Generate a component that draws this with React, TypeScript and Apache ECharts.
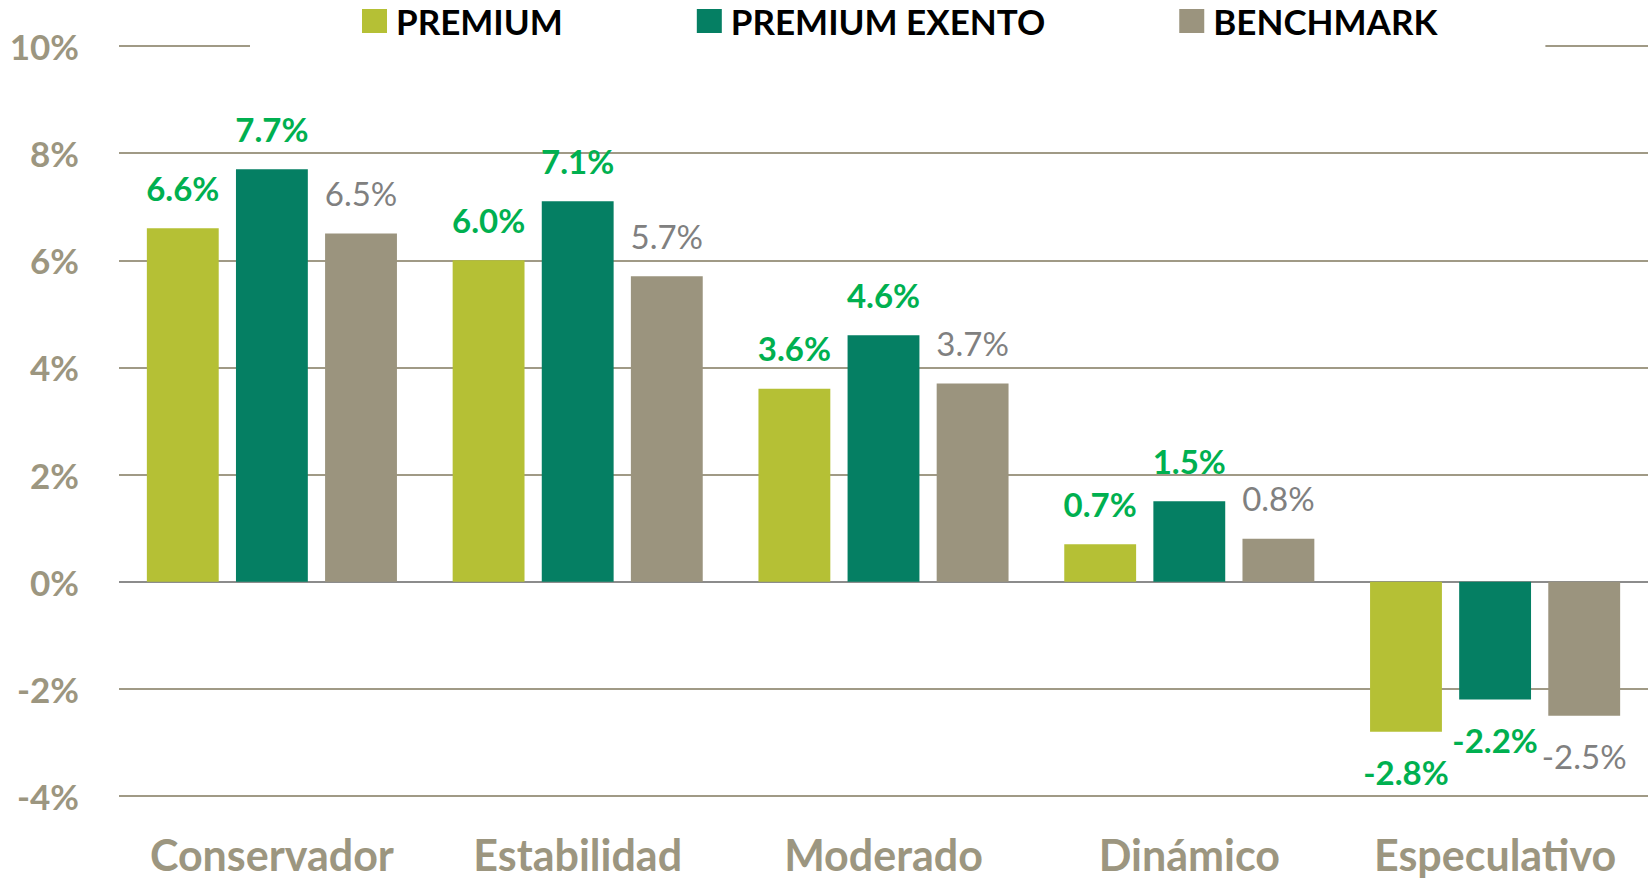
import React, { useEffect, useRef } from "react";
import * as echarts from "echarts";

const categories = ["Conservador", "Estabilidad", "Moderado", "Dinámico", "Especulativo"];
const seriesNames = ["PREMIUM", "PREMIUM EXENTO", "BENCHMARK"];
const premium = [6.6, 6.0, 3.6, 0.7, -2.8];
const premiumExento = [7.7, 7.1, 4.6, 1.5, -2.2];
const benchmark = [6.5, 5.7, 3.7, 0.8, -2.5];

const colors = ["#b5c035", "#057f63", "#9b947e"];
const tan = "#9c9680";
const FONT = "Lato, 'Open Sans', sans-serif";

export default function App() {
  const ref = useRef<HTMLDivElement>(null);
  useEffect(() => {
    if (!ref.current) return;
    const chart = echarts.init(ref.current, null, { renderer: "svg" });
    const makeSeries = (name: string, values: number[], idx: number) => {
      const isBench = idx === 2;
      return {
        name,
        type: "bar",
        barWidth: "23.5%",
        barGap: "24%",
        itemStyle: { color: colors[idx] },
        label: {
          show: true,
          distance: 24,
          formatter: (p: any) => `${Number(p.value).toFixed(1)}%`,
          color: isBench ? "#808080" : "#00b050",
          fontWeight: isBench ? "normal" : "bold",
          fontSize: 33,
          fontFamily: FONT,
        },
        data: values.map((v) => ({
          value: v,
          label: { position: v < 0 ? "bottom" : "top" },
        })),
      };
    };
    chart.setOption({
      animation: false,
      backgroundColor: "#ffffff",
      textStyle: { fontFamily: FONT },
      legend: {
        data: seriesNames,
        left: 250,
        top: 0,
        padding: [0, 108, 8, 112],
        backgroundColor: "#ffffff",
        itemWidth: 25,
        itemHeight: 24,
        itemGap: 134,
        icon: "rect",
        textStyle: {
          color: "#000000",
          fontWeight: "bold",
          fontSize: 35,
          lineHeight: 42,
          fontFamily: FONT,
          padding: [0, 0, 0, 4],
        },
      },
      grid: { left: 119, right: 3, top: 46, bottom: 84, containLabel: false },
      xAxis: {
        type: "category",
        data: categories,
        axisLine: { show: false, onZero: false },
        axisTick: { show: false },
        axisLabel: {
          interval: 0,
          color: tan,
          fontWeight: "bold",
          fontSize: 43,
          margin: 37,
          fontFamily: FONT,
        },
      },
      yAxis: {
        type: "value",
        min: -4,
        max: 10,
        interval: 2,
        axisLine: { show: false },
        axisTick: { show: false },
        axisLabel: {
          formatter: "{value}%",
          color: tan,
          fontWeight: "bold",
          fontSize: 35,
          margin: 40,
          fontFamily: FONT,
        },
        splitLine: {
          lineStyle: {
            width: 2,
            color: ["#a09a86", "#a09a86", "#8c8c8c", "#a09a86", "#a09a86", "#a09a86", "#a09a86", "#a09a86"],
          },
        },
      },
      series: [
        makeSeries(seriesNames[0], premium, 0),
        makeSeries(seriesNames[1], premiumExento, 1),
        makeSeries(seriesNames[2], benchmark, 2),
      ],
    });
    return () => chart.dispose();
  }, []);
  return (
    <div
      ref={ref}
      style={{ position: "absolute", left: 0, top: 0, width: 1651, height: 880 }}
    />
  );
}
